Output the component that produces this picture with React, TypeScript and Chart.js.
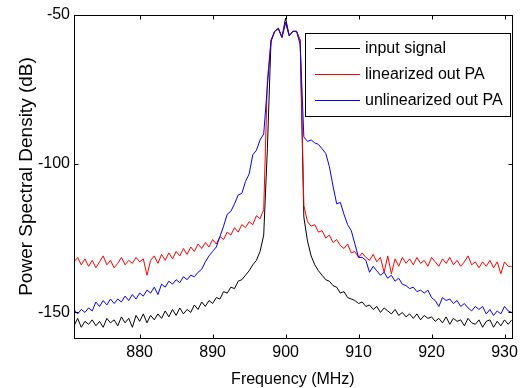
import React, { useEffect, useRef } from 'react';
import { Chart, registerables } from 'chart.js';

Chart.register(...registerables);

const FONT = '"Liberation Sans", Arial, Helvetica, sans-serif';

// Frequency grid (MHz): first sample and spacing
const FREQ_START = 871;
const FREQ_STEP = 0.5;

const X_MIN = 871;
const X_MAX = 931;
const Y_MIN = -158.6;
const Y_MAX = -50;

const xTickValues = [880, 890, 900, 910, 920, 930];
const yTickValues = [-150, -100, -50];

const xAxisTitle = 'Frequency (MHz)';
const yAxisTitle = 'Power Spectral Density (dB)';
const seriesNames = ['input signal', 'linearized out PA', 'unlinearized out PA'];
const seriesColors = ['#000000', '#ff0000', '#0000ff'];

// Power spectral density (dB), one value per 0.5 MHz from 871 to 931 MHz
const inputSignal = [
  -154.5, -152.0, -155.0, -153.0, -154.0, -152.5, -154.5, -153.0, -155.0, -152.0,
  -153.5, -152.5, -154.5, -151.5, -153.5, -152.0, -155.0, -151.0, -153.0, -150.5,
  -153.5, -151.0, -152.5, -150.5, -152.0, -149.5, -151.5, -149.0, -151.0, -148.5,
  -150.5, -149.0, -150.0, -147.5, -149.0, -146.5, -148.0, -146.0, -147.0, -145.0,
  -145.5, -143.0, -143.5, -141.5, -142.0, -139.5, -139.0, -137.5, -136.0, -134.0,
  -132.5, -129.5, -124.0, -95.0, -58.5, -55.5, -54.5, -57.5, -51.0, -57.0,
  -55.5, -55.5, -58.5, -118.0, -126.0, -131.0, -134.0, -136.0, -137.5, -139.0,
  -139.5, -141.0, -141.5, -143.5, -143.0, -145.0, -145.5, -146.0, -147.0, -146.5,
  -148.0, -147.5, -149.0, -148.0, -150.0, -148.5, -149.5, -150.5, -149.0, -151.0,
  -150.0, -151.5, -150.5, -152.0, -150.5, -152.5, -151.0, -152.0, -151.5, -153.0,
  -152.0, -153.5, -151.5, -154.0, -152.0, -153.0, -152.5, -154.5, -152.0, -153.5,
  -154.0, -152.5, -155.0, -153.0, -152.5, -155.0, -153.0, -154.5, -152.5, -154.0,
  -152.5,
];

const linearizedOut = [
  -133.0, -131.5, -134.0, -132.0, -134.5, -132.5, -135.0, -133.0, -131.0, -134.0,
  -132.5, -135.0, -133.5, -131.5, -134.0, -132.5, -133.5, -131.5, -133.0, -132.0,
  -137.5, -132.5, -131.0, -133.5, -130.5, -132.5, -130.0, -132.0, -129.5, -131.0,
  -128.5, -130.5, -128.0, -129.5, -127.0, -128.5, -126.5, -128.0, -125.5, -127.0,
  -124.5, -125.5, -123.0, -124.0, -121.5, -123.0, -120.5, -121.5, -119.5, -120.5,
  -117.5, -118.5, -115.5, -72.0, -58.5, -55.5, -54.5, -57.5, -52.5, -57.0,
  -55.5, -55.5, -58.5, -114.0, -119.5, -121.0, -120.5, -123.0, -122.5, -125.0,
  -124.0, -126.5, -125.5, -127.5, -128.5, -127.0, -130.0, -129.5, -131.5, -130.0,
  -131.5, -132.5, -130.5, -133.0, -131.5, -136.5, -131.0, -137.0, -132.0, -134.5,
  -131.5, -133.5, -132.0, -134.0, -131.5, -133.5, -132.5, -134.5, -131.5, -133.0,
  -134.5, -132.0, -133.5, -131.5, -134.0, -132.5, -134.5, -133.0, -131.0, -134.0,
  -133.0, -135.0, -133.0, -134.5, -132.5, -135.0, -133.0, -137.0, -133.0, -134.5,
  -134.5,
];

const unlinearizedOut = [
  -149.0, -150.5, -149.0, -150.0, -148.5, -149.5, -146.5, -148.0, -146.0, -147.5,
  -145.5, -147.0, -145.5, -146.5, -144.5, -146.0, -144.0, -145.5, -143.5, -144.5,
  -142.5, -143.5, -141.5, -144.0, -140.5, -141.5, -139.5, -140.5, -139.0, -140.0,
  -138.0, -139.0, -137.5, -138.0, -136.5, -135.5, -133.0, -131.0, -129.5, -128.0,
  -124.5, -121.0, -117.0, -116.0, -113.5, -110.5, -110.0, -106.0, -103.5, -97.0,
  -95.5, -92.0, -90.0, -74.0, -59.0, -55.5, -54.5, -57.5, -52.5, -57.0,
  -55.5, -55.5, -60.0, -91.0, -92.5, -92.0, -93.0, -93.5, -95.0, -96.5,
  -101.0, -107.5, -113.5, -113.0, -117.0, -120.5, -122.5, -127.0, -131.5, -131.5,
  -132.5, -136.5, -134.5, -136.0, -137.5, -136.5, -138.5, -137.5, -139.5, -138.5,
  -140.5, -141.0, -142.0, -141.5, -143.0, -142.5, -143.5, -142.5, -145.0, -146.0,
  -148.0, -145.0, -146.0, -145.5, -147.0, -146.0, -148.0, -147.0, -148.5, -149.5,
  -148.0, -149.0, -148.0, -150.5, -149.0, -151.0, -149.5, -150.5, -148.0, -149.5,
  -150.0,
];

const seriesValues = [inputSignal, linearizedOut, unlinearizedOut];

const TICK_LEN = 4;

const axesPlugin = {
  id: 'matlabAxes',
  afterDatasetsDraw(chart: any) {
    const { ctx, chartArea, scales } = chart;
    const { left, right, top, bottom } = chartArea;
    const L = Math.round(left) + 0.5;
    const R = Math.round(right) + 0.5;
    const T = Math.round(top) + 0.5;
    const B = Math.round(bottom) + 0.5;
    ctx.save();
    ctx.strokeStyle = '#000';
    ctx.lineWidth = 1;
    ctx.beginPath();
    xTickValues.forEach((v) => {
      const px = Math.round(scales.x.getPixelForValue(v)) + 0.5;
      ctx.moveTo(px, B);
      ctx.lineTo(px, B - TICK_LEN);
      ctx.moveTo(px, T);
      ctx.lineTo(px, T + TICK_LEN);
    });
    yTickValues.forEach((v) => {
      const py = Math.round(scales.y.getPixelForValue(v)) + 0.5;
      ctx.moveTo(L, py);
      ctx.lineTo(L + TICK_LEN, py);
      ctx.moveTo(R, py);
      ctx.lineTo(R - TICK_LEN, py);
    });
    ctx.stroke();
    ctx.strokeRect(L, T, R - L, B - T);
    ctx.restore();
  },
};

const legendPlugin = {
  id: 'boxLegend',
  afterDraw(chart: any) {
    const { ctx } = chart;
    const boxX = 305.5;
    const boxY = 33.5;
    const boxW = 205;
    const boxH = 83;
    const rowY = [48, 74, 100];
    ctx.save();
    ctx.fillStyle = '#fff';
    ctx.fillRect(boxX, boxY, boxW, boxH);
    ctx.strokeStyle = '#000';
    ctx.lineWidth = 1;
    ctx.strokeRect(boxX, boxY, boxW, boxH);
    ctx.font = `16px ${FONT}`;
    ctx.textBaseline = 'middle';
    ctx.textAlign = 'left';
    seriesNames.forEach((name, i) => {
      const y = rowY[i];
      ctx.strokeStyle = seriesColors[i];
      ctx.beginPath();
      ctx.moveTo(315, y + 0.5);
      ctx.lineTo(360, y + 0.5);
      ctx.stroke();
      ctx.fillStyle = '#000';
      ctx.fillText(name, 365, y + 1);
    });
    ctx.restore();
  },
};

export default function App() {
  const ref = useRef<HTMLCanvasElement>(null);

  useEffect(() => {
    if (!ref.current) return;
    const toPoints = (arr: number[]) =>
      arr.map((v, i) => ({ x: FREQ_START + i * FREQ_STEP, y: v }));
    const tickFont = { family: FONT, size: 16 };
    const datasets = seriesValues.map((arr, i) => ({
      label: seriesNames[i],
      data: toPoints(arr),
      borderColor: seriesColors[i],
      backgroundColor: seriesColors[i],
      borderWidth: 1,
      pointRadius: 0,
      fill: false,
      tension: 0,
      order: 3 - i,
    }));
    const chart = new Chart(ref.current, {
      type: 'line',
      data: { datasets },
      options: {
        animation: false,
        responsive: false,
        maintainAspectRatio: false,
        events: [],
        layout: { padding: { left: 0, top: 15, right: 9, bottom: 0 } },
        plugins: { legend: { display: false }, tooltip: { enabled: false } },
        scales: {
          x: {
            type: 'linear',
            min: X_MIN,
            max: X_MAX,
            grid: { display: false, drawTicks: false },
            border: { display: false },
            ticks: {
              color: '#000',
              font: tickFont,
              padding: 5,
              autoSkip: false,
              maxRotation: 0,
              callback: (v: any) => String(v),
            },
            title: {
              display: true,
              text: xAxisTitle,
              color: '#000',
              font: { family: FONT, size: 16, lineHeight: 1 },
              padding: { top: 0, bottom: 0.6 },
            },
            afterBuildTicks: (s: any) => {
              s.ticks = xTickValues.map((v) => ({ value: v }));
            },
            afterFit: (s: any) => {
              s.height = 50;
            },
          },
          y: {
            type: 'linear',
            min: Y_MIN,
            max: Y_MAX,
            grid: { display: false, drawTicks: false },
            border: { display: false },
            ticks: {
              color: '#000',
              font: tickFont,
              padding: 4,
              autoSkip: false,
              callback: (v: any) => String(v),
            },
            title: {
              display: true,
              text: yAxisTitle,
              color: '#000',
              font: { family: FONT, size: 19, lineHeight: 1.2 },
              padding: { top: 15, bottom: 0 },
            },
            afterBuildTicks: (s: any) => {
              s.ticks = yTickValues.map((v) => ({ value: v }));
            },
            afterFit: (s: any) => {
              s.width = 74;
            },
          },
        },
      },
      plugins: [axesPlugin, legendPlugin],
    } as any);
    return () => chart.destroy();
  }, []);

  return (
    <div
      style={{
        position: 'absolute',
        left: 0,
        top: 0,
        width: 523,
        height: 388,
        background: '#fff',
      }}
    >
      <canvas ref={ref} width={523} height={388} style={{ display: 'block' }} />
    </div>
  );
}
